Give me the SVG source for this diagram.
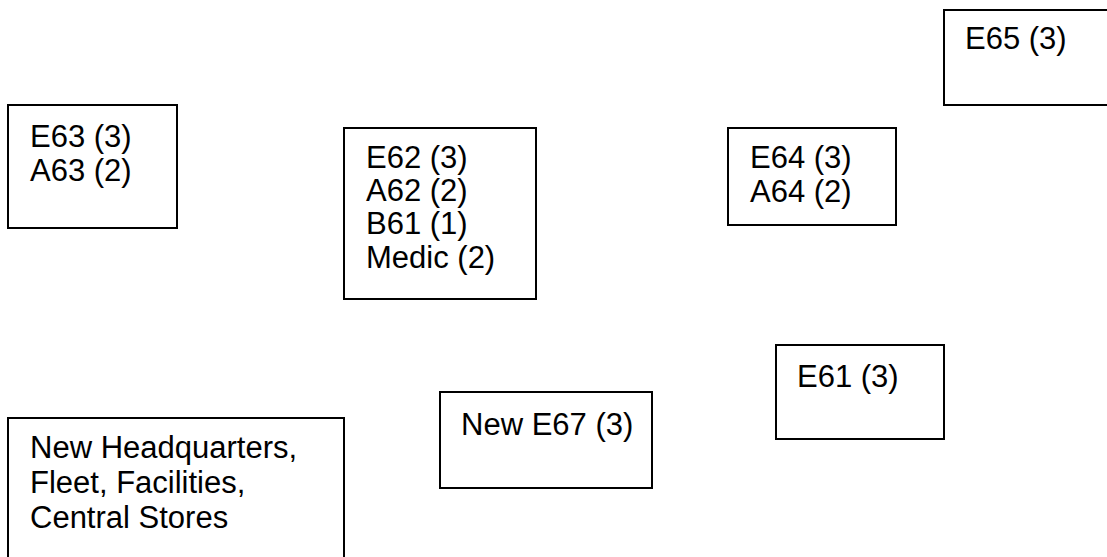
<svg xmlns="http://www.w3.org/2000/svg" width="1107" height="557" viewBox="0 0 1107 557">
<style>
rect.box{fill:#fff;stroke:#000;stroke-width:2}
text{font-family:"Liberation Sans",Arial,sans-serif;font-size:31px;fill:#000}
</style>
<rect width="1107" height="557" fill="#fff"/>
<g id="connectors"></g>
<g id="e65"><rect class="box" x="944" y="10" width="200" height="95"/><text x="965" y="49">E65 (3)</text></g>
<g id="e63"><rect class="box" x="8" y="105" width="169" height="123"/><text x="30" y="147">E63 (3)</text><text x="30" y="181">A63 (2)</text></g>
<g id="e62"><rect class="box" x="344" y="128" width="192" height="171"/><text x="366" y="168">E62 (3)</text><text x="366" y="201">A62 (2)</text><text x="366" y="234">B61 (1)</text><text x="366" y="268">Medic (2)</text></g>
<g id="e64"><rect class="box" x="728" y="128" width="168" height="97"/><text x="750" y="168">E64 (3)</text><text x="750" y="202">A64 (2)</text></g>
<g id="e61"><rect class="box" x="776" y="345" width="168" height="94"/><text x="797" y="387">E61 (3)</text></g>
<g id="e67"><rect class="box" x="440" y="392" width="212" height="96"/><text x="461" y="435">New E67 (3)</text></g>
<g id="hq"><rect class="box" x="8" y="418" width="336" height="200"/><text x="30" y="458">New Headquarters,</text><text x="30" y="493">Fleet, Facilities,</text><text x="30" y="528">Central Stores</text></g>
</svg>
